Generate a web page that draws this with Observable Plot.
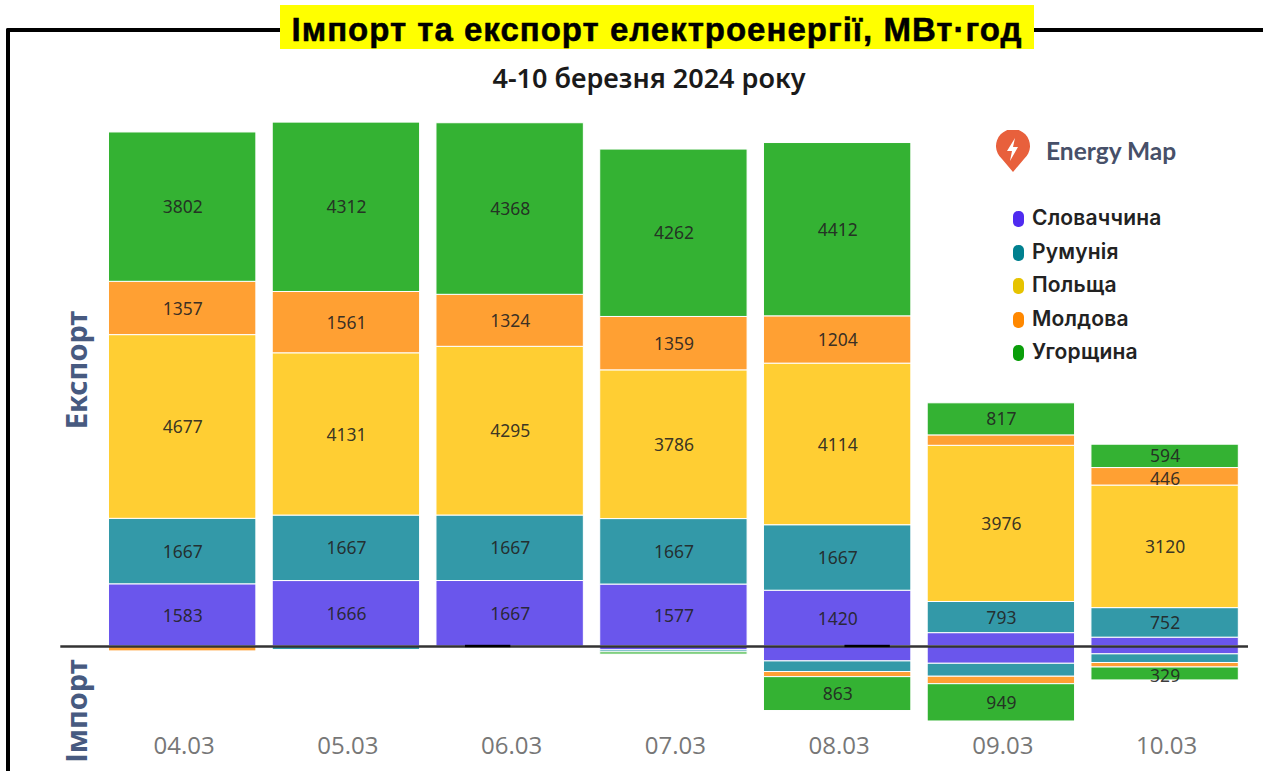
<!DOCTYPE html>
<html lang="uk">
<head>
<meta charset="utf-8">
<script src="https://cdn.jsdelivr.net/npm/d3@7"></script>
<script src="https://cdn.jsdelivr.net/npm/@observablehq/plot@0.6"></script>
<style>
  html, body { margin: 0; padding: 0; background: #fff; }
  #page { position: relative; width: 1263px; height: 771px; overflow: hidden; }
  #page svg.plot { position: absolute; left: 0; top: 0; }
  #frame { position: absolute; left: 6px; top: 28px; right: -10px; bottom: -10px; border-left: 4px solid #000; border-top: 4px solid #000; border-top-left-radius: 2px; }
  #title { position: absolute; left: 280px; top: 5px; width: 754px; height: 44px; background: #ffff00; color: #000; text-align: center; font: bold 33px/49px "Liberation Sans", sans-serif; letter-spacing: 1px; -webkit-text-stroke: 0.5px #000; white-space: nowrap; }
  #subtitle { position: absolute; left: 349px; width: 600px; top: 60px; text-align: center; font: 600 27px/36px "Noto Sans", sans-serif; color: #1a1a1a; white-space: nowrap; }
  .side { position: absolute; font: bold 29px/36px "Noto Sans", sans-serif; color: #475a80; white-space: nowrap; transform: translate(-50%, -50%) rotate(-90deg); }
  #brand { position: absolute; left: 1046px; top: 134px; font: 700 24.5px/34px "Lato", sans-serif; color: #475069; white-space: nowrap; }
  #logo { position: absolute; left: 995px; top: 130px; }
  #legend { position: absolute; left: 1013px; top: 201px; font: 600 21px/33.6px "Inter", sans-serif; letter-spacing: 0.2px; color: #222; }
  #legend div { height: 33.6px; white-space: nowrap; }
  #legend i { display: inline-block; width: 11px; height: 16px; border-radius: 5px; margin-right: 8px; vertical-align: -2px; }
</style>
</head>
<body>
<div id="page">
  <div id="frame"></div>
  <div id="title">Імпорт та експорт електроенергії, МВт·год</div>
  <div id="subtitle">4-10 березня 2024 року</div>
  <div class="side" style="left:76px;top:370px">Експорт</div>
  <div class="side" style="left:76px;top:711px">Імпорт</div>
  <svg id="logo" width="36" height="44" viewBox="0 0 36 44">
    <path d="M18 42 L7 29 A17 17 0 1 1 29 29 Z" fill="#e8603c"/>
    <path d="M20 8 L12 21 H17 L15 31 L23 17 H18 Z" fill="#fff"/>
  </svg>
  <div id="brand">Energy Map</div>
  <div id="legend"></div>
</div>
<script>
const dates = ["04.03", "05.03", "06.03", "07.03", "08.03", "09.03", "10.03"];
const countries = ["Словаччина", "Румунія", "Польща", "Молдова", "Угорщина"];
const barColors = ["#6a56ec", "#3399a8", "#ffce33", "#ffa033", "#34b233"];
const legendColors = ["#4f2bf0", "#00808f", "#e6c300", "#ff8800", "#0a9e0a"];

const slovakiaExport = [1583, 1666, 1667, 1577, 1420, 340, 225];
const romaniaExport = [1667, 1667, 1667, 1667, 1667, 793, 752];
const polandExport = [4677, 4131, 4295, 3786, 4114, 3976, 3120];
const moldovaExport = [1357, 1561, 1324, 1359, 1204, 265, 446];
const hungaryExport = [3802, 4312, 4368, 4262, 4412, 817, 594];

const slovakiaImport = [0, 0, 0, -100, -380, -440, -200];
const romaniaImport = [0, -90, 0, -50, -270, -330, -220];
const polandImport = [0, 0, 0, 0, 0, 0, 0];
const moldovaImport = [-125, 0, 0, 0, -130, -190, -115];
const hungaryImport = [0, 0, 0, -55, -863, -949, -329];

const exportSeries = [slovakiaExport, romaniaExport, polandExport, moldovaExport, hungaryExport];
const importSeries = [slovakiaImport, romaniaImport, polandImport, moldovaImport, hungaryImport];
const lowered = [446, 329];

const rows = [];
countries.forEach((country, c) => dates.forEach((date, d) => {
  const e = exportSeries[c][d], m = importSeries[c][d];
  rows.push({date, country, value: e, label: e >= 440 ? String(e) : ""});
  if (m !== 0) rows.push({date, country, value: m, label: country === "Угорщина" && m <= -300 ? String(-m) : ""});
}));

const stackOpts = (text) => Plot.stackY({x: "date", y: "value", z: "country", order: countries, text,
  fill: "#222", fontSize: 17.5, fontFamily: "Noto Sans", fillOpacity: 0.9, dy: 0.5});

const chart = Plot.plot({
  width: 1263,
  height: 771,
  marginLeft: 100.3,
  marginRight: 16.5,
  marginTop: 115.7,
  marginBottom: 36,
  style: {background: "transparent"},
  x: {type: "band", domain: dates, paddingInner: 0.1, paddingOuter: 0.05, round: false, label: null},
  y: {domain: [-2266, 13500], axis: null, label: null},
  color: {domain: countries, range: barColors},
  marks: [
    Plot.barY(rows, Plot.stackY({x: "date", y: "value", z: "country", order: countries, fill: "country", stroke: "#fff", strokeWidth: 1})),
    Plot.ruleY([0], {stroke: "#333", strokeWidth: 2.5, insetLeft: -40, insetRight: -1.5}),
    Plot.barY(["06.03"], {x: d => d, y1: () => -30, y2: () => 30, fill: "#000", insetLeft: 29, insetRight: 73}),
    Plot.barY(["08.03"], {x: d => d, y1: () => -30, y2: () => 30, fill: "#000", insetLeft: 81, insetRight: 21}),
    Plot.text(rows, stackOpts(d => lowered.includes(Math.abs(d.value)) ? "" : d.label)),
    Plot.text(rows, {...stackOpts(d => lowered.includes(Math.abs(d.value)) ? d.label : ""), dy: 2.5}),
    Plot.axisX({anchor: "bottom", tickSize: 0, tickPadding: 1, dx: 1.5, fontSize: 24, fontWeight: 500, fontFamily: "Open Sans", color: "#777", label: null})
  ]
});
document.getElementById("page").insertBefore(chart, document.getElementById("title"));

const legend = document.getElementById("legend");
countries.forEach((name, i) => {
  const row = document.createElement("div");
  const swatch = document.createElement("i");
  swatch.style.background = legendColors[i];
  row.append(swatch, name);
  legend.append(row);
});
</script>
</body>
</html>
